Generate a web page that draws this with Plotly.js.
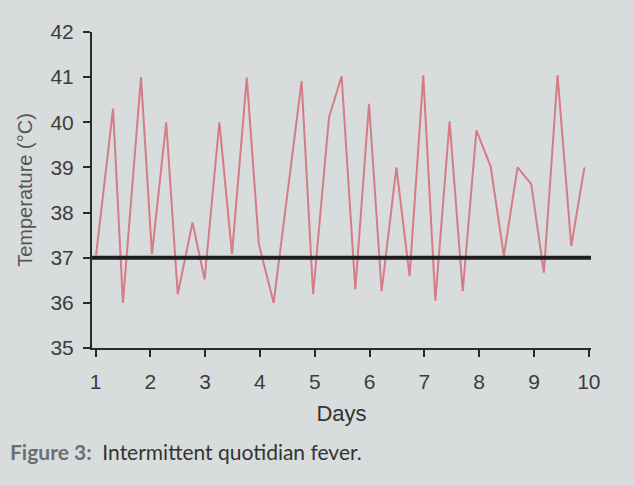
<!DOCTYPE html>
<html>
<head>
<meta charset="utf-8">
<script src="https://cdn.plot.ly/plotly-3.0.1.min.js"></script>
<style>
  html, body { margin: 0; padding: 0; background: #d9dcdc; }
  #chart { width: 634px; height: 485px; }
</style>
</head>
<body>
<div id="chart"></div>
<script>
// Day (fractional) of each reading
const days = [1.01, 1.32, 1.50, 1.83, 2.03, 2.29, 2.50, 2.77, 2.99, 3.26, 3.49, 3.76,
              3.98, 4.25, 4.76, 4.97, 5.26, 5.49, 5.74, 5.99, 6.22, 6.49, 6.73, 6.98,
              7.20, 7.46, 7.70, 7.95, 8.21, 8.45, 8.70, 8.95, 9.18, 9.43, 9.68, 9.92];
// Body temperature readings (°C)
const temps = [37.05, 40.3, 36.0, 41.0, 37.08, 40.0, 36.19, 37.78, 36.52, 40.0, 37.08, 40.99,
               37.3, 36.0, 40.91, 36.19, 40.11, 41.02, 36.3, 40.41, 36.26, 39.0, 36.59, 41.04,
               36.05, 40.02, 36.26, 39.82, 39.02, 37.04, 39.0, 38.63, 36.67, 41.04, 37.26, 39.0];
// Normal body temperature reference
const normalTemp = 37;
const xTicks = [1, 2, 3, 4, 5, 6, 7, 8, 9, 10];
const yTicks = [35, 36, 37, 38, 39, 40, 41, 42];
const xTitle = 'Days';
const yTitle = 'Temperature (°C)';
const caption = '<b>Figure 3:</b>  <span style="color:#333">Intermittent quotidian fever.</span>';

const trace = {
  x: days, y: temps, type: 'scatter', mode: 'lines',
  line: { color: '#d47c88', width: 2 },
  hoverinfo: 'skip', showlegend: false
};

const narrow = 'Liberation Sans Narrow, Arial Narrow, Liberation Sans, sans-serif';
const tickFont = { family: narrow, size: 21, color: '#3c3c3c' };

const layout = {
  width: 634, height: 485,
  paper_bgcolor: '#d9dcdc', plot_bgcolor: '#d9dcdc',
  margin: { l: 92, r: 43, t: 32, b: 137 },
  xaxis: {
    range: [0.936, 10.04], tickvals: xTicks, ticktext: xTicks.map(String),
    showgrid: false, zeroline: false, showline: true, linecolor: '#2a2a2a', linewidth: 2,
    ticks: 'outside', ticklen: 7, tickwidth: 2, tickcolor: '#2a2a2a',
    tickfont: tickFont, ticklabelstandoff: 7,
    title: { text: xTitle, font: { family: narrow, size: 22, color: '#333' }, standoff: 13 }
  },
  yaxis: {
    range: [35, 42], tickvals: yTicks, ticktext: yTicks.map(String),
    showgrid: false, zeroline: false, showline: true, linecolor: '#2a2a2a', linewidth: 2,
    ticks: 'outside', ticklen: 7, tickwidth: 2, tickcolor: '#2a2a2a',
    tickfont: tickFont, ticklabelstandoff: 5,
    title: { text: yTitle, font: { family: 'Liberation Sans, Arial, sans-serif', size: 20, color: '#555' }, standoff: 12 }
  },
  shapes: [{
    type: 'line', xref: 'x', yref: 'y', x0: 0.936, x1: 10.04, y0: normalTemp, y1: normalTemp,
    line: { color: '#1e1e1e', width: 4 }, layer: 'above'
  }],
  annotations: [{
    text: caption, xref: 'paper', yref: 'paper',
    x: (8 - 92) / 499, y: (348 - 451) / 316, xanchor: 'left', yanchor: 'middle',
    showarrow: false, font: { family: 'Lato, Open Sans, sans-serif', size: 21, color: '#6b6f73' }
  }]
};

Plotly.newPlot('chart', [trace], layout, { staticPlot: true, displayModeBar: false });
</script>
</body>
</html>
